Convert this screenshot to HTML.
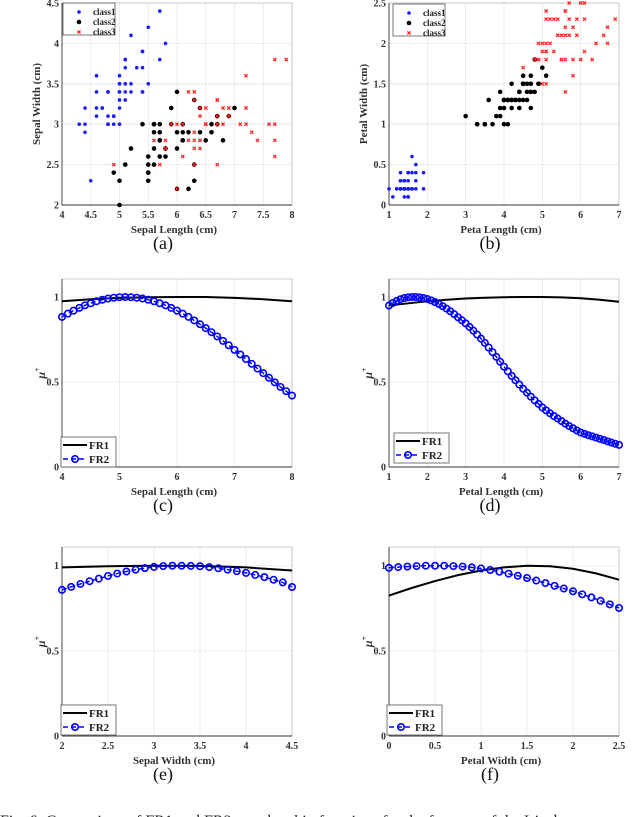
<!DOCTYPE html>
<html><head><meta charset="utf-8"><style>
html,body{margin:0;padding:0;background:#fff;}
svg{display:block;font-family:"Liberation Serif",serif;}
</style></head><body>
<svg id="fig" width="640" height="817" viewBox="0 0 640 817" xmlns="http://www.w3.org/2000/svg"></svg>
<script>
const c1SepalLen=[5.1,4.9,4.7,4.6,5.0,5.4,4.6,5.0,4.4,4.9,5.4,4.8,4.8,4.3,5.8,5.7,5.4,5.1,5.7,5.1,5.4,5.1,4.6,5.1,4.8,5.0,5.0,5.2,5.2,4.7,4.8,5.4,5.2,5.5,4.9,5.0,5.5,4.9,4.4,5.1,5.0,4.5,4.4,5.0,5.1,4.8,5.1,4.6,5.3,5.0];
const c1SepalWid=[3.5,3.0,3.2,3.1,3.6,3.9,3.4,3.4,2.9,3.1,3.7,3.4,3.0,3.0,4.0,4.4,3.9,3.5,3.8,3.8,3.4,3.7,3.6,3.3,3.4,3.0,3.4,3.5,3.4,3.2,3.1,3.4,4.1,4.2,3.1,3.2,3.5,3.1,3.0,3.4,3.5,2.3,3.2,3.5,3.8,3.0,3.8,3.2,3.7,3.3];
const c1PetalLen=[1.4,1.4,1.3,1.5,1.4,1.7,1.4,1.5,1.4,1.5,1.5,1.6,1.4,1.1,1.2,1.5,1.3,1.4,1.7,1.5,1.7,1.5,1.0,1.7,1.9,1.6,1.6,1.5,1.4,1.6,1.6,1.5,1.5,1.4,1.5,1.2,1.3,1.5,1.3,1.5,1.3,1.3,1.3,1.6,1.9,1.4,1.6,1.4,1.5,1.4];
const c1PetalWid=[0.2,0.2,0.2,0.2,0.2,0.4,0.3,0.2,0.2,0.1,0.2,0.2,0.1,0.1,0.2,0.4,0.4,0.3,0.3,0.3,0.2,0.4,0.2,0.5,0.2,0.2,0.4,0.2,0.2,0.2,0.2,0.4,0.1,0.2,0.1,0.2,0.2,0.1,0.2,0.2,0.3,0.3,0.2,0.6,0.4,0.3,0.2,0.2,0.2,0.2];
const c2SepalLen=[7.0,6.4,6.9,5.5,6.5,5.7,6.3,4.9,6.6,5.2,5.0,5.9,6.0,6.1,5.6,6.7,5.6,5.8,6.2,5.6,5.9,6.1,6.3,6.1,6.4,6.6,6.8,6.7,6.0,5.7,5.5,5.5,5.8,6.0,5.4,6.0,6.7,6.3,5.6,5.5,5.5,6.1,5.8,5.0,5.6,5.7,5.7,6.2,5.1,5.7];
const c2SepalWid=[3.2,3.2,3.1,2.3,2.8,2.8,3.3,2.4,2.9,2.7,2.0,3.0,2.2,2.9,2.9,3.1,3.0,2.7,2.2,2.5,3.2,2.8,2.5,2.8,2.9,3.0,2.8,3.0,2.9,2.6,2.4,2.4,2.7,2.7,3.0,3.4,3.1,2.3,3.0,2.5,2.6,3.0,2.6,2.3,2.7,3.0,2.9,2.9,2.5,2.8];
const c2PetalLen=[4.7,4.5,4.9,4.0,4.6,4.5,4.7,3.3,4.6,3.9,3.5,4.2,4.0,4.7,3.6,4.4,4.5,4.1,4.5,3.9,4.8,4.0,4.9,4.7,4.3,4.4,4.8,5.0,4.5,3.5,3.8,3.7,3.9,5.1,4.5,4.5,4.7,4.4,4.1,4.0,4.4,4.6,4.0,3.3,4.2,4.2,4.2,4.3,3.0,4.1];
const c2PetalWid=[1.4,1.5,1.5,1.3,1.5,1.3,1.6,1.0,1.3,1.4,1.0,1.5,1.0,1.4,1.3,1.4,1.5,1.0,1.5,1.1,1.8,1.3,1.5,1.2,1.3,1.4,1.4,1.7,1.5,1.0,1.1,1.0,1.2,1.6,1.5,1.6,1.5,1.3,1.3,1.3,1.2,1.4,1.2,1.0,1.3,1.2,1.3,1.3,1.1,1.3];
const c3SepalLen=[6.3,5.8,7.1,6.3,6.5,7.6,4.9,7.3,6.7,7.2,6.5,6.4,6.8,5.7,5.8,6.4,6.5,7.7,7.7,6.0,6.9,5.6,7.7,6.3,6.7,7.2,6.2,6.1,6.4,7.2,7.4,7.9,6.4,6.3,6.1,7.7,6.3,6.4,6.0,6.9,6.7,6.9,5.8,6.8,6.7,6.7,6.3,6.5,6.2,5.9];
const c3SepalWid=[3.3,2.7,3.0,2.9,3.0,3.0,2.5,2.9,2.5,3.6,3.2,2.7,3.0,2.5,2.8,3.2,3.0,3.8,2.6,2.2,3.2,2.8,2.8,2.7,3.3,3.2,2.8,3.0,2.8,3.0,2.8,3.8,2.8,2.8,2.6,3.0,3.4,3.1,3.0,3.1,3.1,3.1,2.7,3.2,3.3,3.0,2.5,3.0,3.4,3.0];
const c3PetalLen=[6.0,5.1,5.9,5.6,5.8,6.6,4.5,6.3,5.8,6.1,5.1,5.3,5.5,5.0,5.1,5.3,5.5,6.7,6.9,5.0,5.7,4.9,6.7,4.9,5.7,6.0,4.8,4.9,5.6,5.8,6.1,6.4,5.6,5.1,5.6,6.1,5.6,5.5,4.8,5.4,5.6,5.1,5.1,5.9,5.7,5.2,5.0,5.2,5.4,5.1];
const c3PetalWid=[2.5,1.9,2.1,1.8,2.2,2.1,1.7,1.8,1.8,2.5,2.0,1.9,2.1,2.0,2.4,2.3,1.8,2.2,2.3,1.5,2.3,2.0,2.0,1.8,2.1,1.8,1.8,1.8,2.1,1.6,1.9,2.0,2.2,1.5,1.4,2.3,2.4,1.8,1.8,2.1,2.4,2.3,1.9,2.3,2.5,2.3,1.9,2.0,2.3,1.8];

const cFR2x=[4.0,4.1,4.2,4.3,4.4,4.5,4.6,4.7,4.8,4.9,5.0,5.1,5.2,5.3,5.4,5.5,5.6,5.7,5.8,5.9,6.0,6.1,6.2,6.3,6.4,6.5,6.6,6.7,6.8,6.9,7.0,7.1,7.2,7.3,7.4,7.5,7.6,7.7,7.8,7.9,8.0];
const cFR2y=[0.883,0.902,0.920,0.936,0.951,0.963,0.975,0.984,0.991,0.996,0.999,1.0,0.999,0.996,0.991,0.984,0.975,0.963,0.951,0.936,0.920,0.902,0.883,0.862,0.840,0.817,0.793,0.768,0.742,0.716,0.689,0.662,0.635,0.607,0.579,0.552,0.525,0.498,0.471,0.446,0.420];
const cFR1x=[4.0,4.5,5.0,5.5,6.0,6.5,7.0,7.5,8.0];
const cFR1y=[0.975,0.987,0.995,0.999,1.0,1.0,0.995,0.987,0.975];
const dFR2x=[1.0,1.1,1.2,1.3,1.4,1.5,1.6,1.7,1.8,1.9,2.0,2.1,2.2,2.3,2.4,2.5,2.6,2.7,2.8,2.9,3.0,3.1,3.2,3.3,3.4,3.5,3.6,3.7,3.8,3.9,4.0,4.1,4.2,4.3,4.4,4.5,4.6,4.7,4.8,4.9,5.0,5.1,5.2,5.3,5.4,5.5,5.6,5.7,5.8,5.9,6.0,6.1,6.2,6.3,6.4,6.5,6.6,6.7,6.8,6.9,7.0];
const dFR2y=[0.950,0.965,0.977,0.987,0.994,0.998,1.0,1.0,0.998,0.994,0.988,0.980,0.970,0.959,0.946,0.932,0.916,0.899,0.881,0.863,0.845,0.824,0.802,0.779,0.755,0.730,0.703,0.676,0.648,0.619,0.590,0.563,0.536,0.510,0.485,0.460,0.437,0.414,0.392,0.371,0.350,0.333,0.316,0.300,0.285,0.270,0.255,0.241,0.228,0.215,0.203,0.195,0.187,0.180,0.173,0.166,0.159,0.151,0.144,0.137,0.130];
const dFR1x=[1.0,1.5,2.0,2.5,3.0,3.5,4.0,4.5,5.0,5.5,6.0,6.5,7.0];
const dFR1y=[0.950,0.963,0.975,0.984,0.991,0.996,0.999,1.0,1.0,0.998,0.993,0.984,0.972];
const eFR2x=[2.0,2.1,2.2,2.3,2.4,2.5,2.6,2.7,2.8,2.9,3.0,3.1,3.2,3.3,3.4,3.5,3.6,3.7,3.8,3.9,4.0,4.1,4.2,4.3,4.4,4.5];
const eFR2y=[0.858,0.876,0.893,0.909,0.924,0.940,0.954,0.966,0.977,0.986,0.993,0.998,1.0,1.0,0.999,0.997,0.992,0.985,0.977,0.968,0.958,0.946,0.933,0.918,0.902,0.875];
const eFR1x=[2.0,2.5,3.0,3.5,4.0,4.5];
const eFR1y=[0.990,0.997,1.0,0.999,0.990,0.972];
const fFR2x=[0.0,0.1,0.2,0.3,0.4,0.5,0.6,0.7,0.8,0.9,1.0,1.1,1.2,1.3,1.4,1.5,1.6,1.7,1.8,1.9,2.0,2.1,2.2,2.3,2.4,2.5];
const fFR2y=[0.988,0.992,0.995,0.998,1.0,1.0,1.0,0.998,0.995,0.990,0.984,0.975,0.965,0.953,0.941,0.928,0.913,0.898,0.882,0.866,0.850,0.832,0.814,0.794,0.773,0.752];
const fFR1x=[0.0,0.25,0.5,0.75,1.0,1.25,1.5,1.75,2.0,2.25,2.5];
const fFR1y=[0.825,0.870,0.910,0.945,0.972,0.990,1.0,0.997,0.982,0.955,0.918];

const ticksA_x=[4,4.5,5,5.5,6,6.5,7,7.5,8], ticksA_y=[2,2.5,3,3.5,4,4.5];
const ticksB_x=[1,2,3,4,5,6,7], ticksB_y=[0,0.5,1,1.5,2,2.5];
const ticksC_x=[4,5,6,7,8], ticksD_x=[1,2,3,4,5,6,7];
const ticksE_x=[2,2.5,3,3.5,4,4.5], ticksF_x=[0,0.5,1,1.5,2,2.5];
const ticksMu_y=[0,0.5,1];

const NS='http://www.w3.org/2000/svg';
const svg=document.getElementById('fig');
function mk(tag,attrs,parent){const e=document.createElementNS(NS,tag);for(const k in attrs)e.setAttribute(k,attrs[k]);(parent||svg).appendChild(e);return e;}

function panel(p){
  const g=mk('g',{});
  
  
  const sx=v=>p.x0+(v-p.xmin)/(p.xmax-p.xmin)*(p.x1-p.x0);
  const sy=v=>p.y1-(v-p.ymin)/(p.ymax-p.ymin)*(p.y1-p.y0);
  p.sx=sx;p.sy=sy;p.g=g;
  p.xt.forEach(t=>{const l=mk('line',{x1:sx(t),x2:sx(t),y1:p.y0,y2:p.y1,stroke:'#e6e6e6','stroke-width':0.8},g);});
  p.yt.forEach(t=>{const l=mk('line',{x1:p.x0,x2:p.x1,y1:sy(t),y2:sy(t),stroke:'#e6e6e6','stroke-width':0.8},g);});
  mk('line',{x1:p.x0,x2:p.x1,y1:p.y0,y2:p.y0,stroke:'#bbb','stroke-width':0.8},g);
  mk('line',{x1:p.x1,x2:p.x1,y1:p.y0,y2:p.y1,stroke:'#bbb','stroke-width':0.8},g);
  const xa=mk('line',{x1:p.x0,x2:p.x1,y1:p.y1,y2:p.y1,stroke:'#333','stroke-width':0.9},g);
  
  const ya=mk('line',{x1:p.x0,x2:p.x0,y1:p.y0,y2:p.y1,stroke:'#333','stroke-width':0.9},g);
  
  p.xt.forEach(t=>{const tx=mk('text',{x:sx(t),y:p.y1+13,'text-anchor':'middle','font-size':10,'font-weight':'bold',fill:'#333'},g);tx.textContent=String(t);});
  p.yt.forEach(t=>{const tx=mk('text',{x:p.x0-3,y:sy(t)+3.5,'text-anchor':'end','font-size':10,'font-weight':'bold',fill:'#333'},g);tx.textContent=String(t);});
  const xl=mk('text',{x:(p.x0+p.x1)/2-3,y:p.y1+28,'text-anchor':'middle','font-size':11,'font-weight':'bold',fill:'#333'},g);
  xl.textContent=p.xlabel;
  const cx=p.x0-22, cy=(p.y0+p.y1)/2;
  const yl=mk('text',{x:cx,y:cy,'text-anchor':'middle','font-size':11,'font-weight':'bold',fill:'#333',transform:`rotate(-90 ${cx} ${cy})`},g);
  if(p.mu){yl.setAttribute('font-style','italic');yl.setAttribute('font-size',12);yl.innerHTML='μ<tspan font-size="8" dy="-5">+</tspan>';yl.setAttribute('x',cx+5);yl.setAttribute('transform',`rotate(-90 ${cx+5} ${cy})`);}
  else yl.textContent=p.ylabel;
  
  const tg=mk('text',{x:(p.x0+p.x1)/2-14,y:p.y1+44,'text-anchor':'middle','font-size':18,fill:'#111'},g);
  tg.textContent=p.tag;
  return p;
}
function mark(g,kind,x,y){
  if(kind===1){const c=mk('circle',{cx:x,cy:y,r:1.8,fill:'#1a1aff'},g);}
  else if(kind===2){const c=mk('circle',{cx:x,cy:y,r:2.3,fill:'#000'},g);}
  else {const c=mk('path',{d:`M${x-1.6},${y-1.6}L${x+1.6},${y+1.6}M${x-1.6},${y+1.6}L${x+1.6},${y-1.6}`,stroke:'#ff2020','stroke-width':1.2},g);}
}
function scatter(p,sets){
  sets.forEach(([k,xs,ys])=>xs.forEach((v,i)=>mark(p.g,k,p.sx(v),p.sy(ys[i]))));
  const lx=p.lx, ly=p.ly;
  const lg=mk('g',{},p.g);
  mk('rect',{x:lx,y:ly,width:52,height:32,fill:'#fff',stroke:'#555','stroke-width':0.8},lg);
  ['class1','class2','class3'].forEach((n,i)=>{
    mark(lg,i+1,lx+16,ly+9+i*10);
    const t=mk('text',{x:lx+30,y:ly+12+i*10,'font-size':9,'font-weight':'bold',fill:'#222'},lg);
    t.textContent=n;
  });
}
function curves(p,x1,y1,x2,y2){
  const pts1=x1.map((v,i)=>p.sx(v)+','+p.sy(y1[i])).join(' ');
  const l1=mk('polyline',{points:pts1,fill:'none',stroke:'#000','stroke-width':2},p.g);
  
  const pts2=x2.map((v,i)=>p.sx(v)+','+p.sy(y2[i])).join(' ');
  const l2=mk('polyline',{points:pts2,fill:'none',stroke:'#0000ff','stroke-width':1.5,'stroke-dasharray':'5,3'},p.g);
  
  x2.forEach((v,i)=>{const c=mk('circle',{cx:p.sx(v),cy:p.sy(y2[i]),r:3.2,fill:'none',stroke:'#0000ff','stroke-width':1.6},p.g);});
  const lx=p.lx, ly=p.ly;
  const lg=mk('g',{},p.g);
  mk('rect',{x:lx,y:ly,width:55,height:30,fill:'#fff',stroke:'#555','stroke-width':0.8},lg);
  mk('line',{x1:lx+2,x2:lx+26,y1:ly+8,y2:ly+8,stroke:'#000','stroke-width':2},lg);
  mk('line',{x1:lx+2,x2:lx+26,y1:ly+22,y2:ly+22,stroke:'#0000ff','stroke-width':1.5,'stroke-dasharray':'5,3'},lg);
  mk('circle',{cx:lx+14,cy:ly+22,r:3.2,fill:'none',stroke:'#0000ff','stroke-width':1.6},lg);
  [['FR1',ly+12],['FR2',ly+26]].forEach(([n,y])=>{const t=mk('text',{x:lx+28,y:y,'font-size':11,'font-weight':'bold',fill:'#222'},lg);t.textContent=n;});
}

const L0=62,L1=292,R0=389,R1=619;
const pa=panel({name:'panel-a',x0:L0,x1:L1,y0:3,y1:205,xmin:4,xmax:8,ymin:2,ymax:4.5,xt:ticksA_x,yt:ticksA_y,xlabel:'Sepal Length (cm)',ylabel:'Sepal Width (cm)',tag:'(a)',lx:63,ly:3});
scatter(pa,[[1,c1SepalLen,c1SepalWid],[2,c2SepalLen,c2SepalWid],[3,c3SepalLen,c3SepalWid]]);
const pb=panel({name:'panel-b',x0:R0,x1:R1,y0:3,y1:205,xmin:1,xmax:7,ymin:0,ymax:2.5,xt:ticksB_x,yt:ticksB_y,xlabel:'Peta Length (cm)',ylabel:'Petal Width (cm)',tag:'(b)',lx:393,ly:4});
scatter(pb,[[1,c1PetalLen,c1PetalWid],[2,c2PetalLen,c2PetalWid],[3,c3PetalLen,c3PetalWid]]);
const pc=panel({name:'panel-c',x0:L0,x1:L1,y0:279,y1:467,xmin:4,xmax:8,ymin:0,ymax:1.106,xt:ticksC_x,yt:ticksMu_y,xlabel:'Sepal Length (cm)',mu:true,tag:'(c)',lx:61,ly:437});
curves(pc,cFR1x,cFR1y,cFR2x,cFR2y);
const pd=panel({name:'panel-d',x0:R0,x1:R1,y0:279,y1:467,xmin:1,xmax:7,ymin:0,ymax:1.106,xt:ticksD_x,yt:ticksMu_y,xlabel:'Petal Length (cm)',mu:true,tag:'(d)',lx:394,ly:433});
curves(pd,dFR1x,dFR1y,dFR2x,dFR2y);
const pe=panel({name:'panel-e',x0:L0,x1:L1,y0:547,y1:736,xmin:2,xmax:4.5,ymin:0,ymax:1.11,xt:ticksE_x,yt:ticksMu_y,xlabel:'Sepal Width (cm)',mu:true,tag:'(e)',lx:61,ly:705});
curves(pe,eFR1x,eFR1y,eFR2x,eFR2y);
const pf=panel({name:'panel-f',x0:R0,x1:R1,y0:547,y1:736,xmin:0,xmax:2.5,ymin:0,ymax:1.11,xt:ticksF_x,yt:ticksMu_y,xlabel:'Petal Width (cm)',mu:true,tag:'(f)',lx:387,ly:705});
curves(pf,fFR1x,fFR1y,fFR2x,fFR2y);

const cap=mk('text',{x:0,y:826,'font-size':16,fill:'#222'});
cap.textContent='Fig. 6: Comparison of FR1 and FR2 membership functions for the features of the Iris data';


</script>
</body></html>
